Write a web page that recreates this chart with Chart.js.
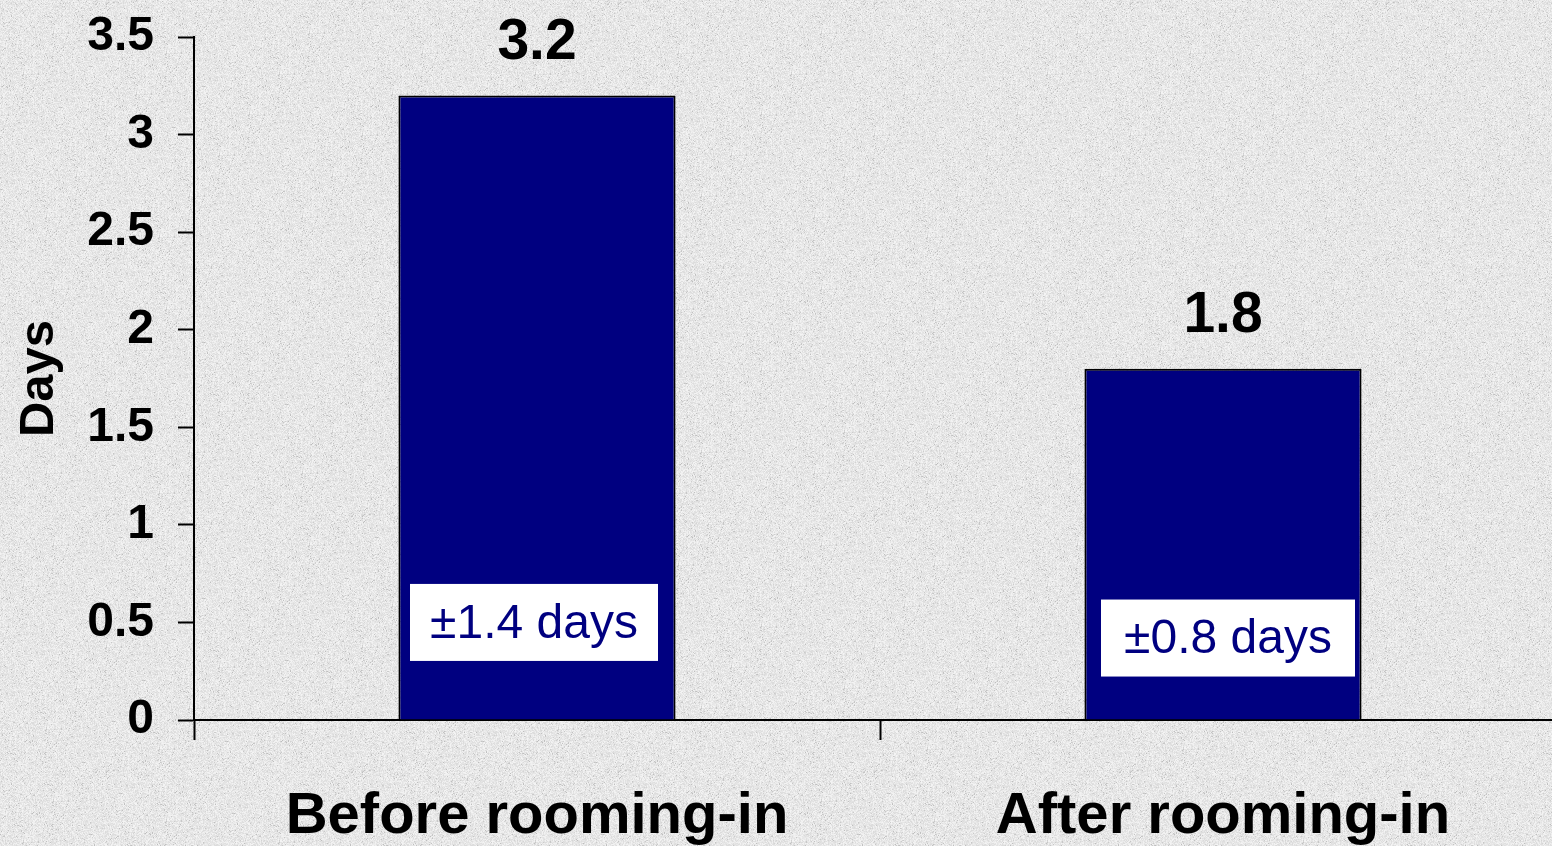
<!DOCTYPE html>
<html>
<head>
<meta charset="utf-8">
<script src="https://cdn.jsdelivr.net/npm/chart.js@4.4.0/dist/chart.umd.min.js"></script>
<style>
  html, body { margin: 0; padding: 0; overflow: hidden; background: #e6e6e6; }
  #wrap { width: 1566px; height: 846px; }
</style>
</head>
<body>
<div id="wrap"><canvas id="myChart" width="1566" height="846"></canvas></div>
<script>
// data
const categories = ['Before rooming-in', 'After rooming-in'];
const meanDays = [3.2, 1.8];
const sdLabels = ['\u00b11.4 days', '\u00b10.8 days'];
const yTicks = [0, 0.5, 1, 1.5, 2, 2.5, 3, 3.5];

// granite-ish backdrop, simple LCG so it looks the same each run
function makeTexture() {
    var c = document.createElement('canvas');
    c.width = 256; c.height = 256;
    var g = c.getContext('2d');
    var img = g.createImageData(256, 256);
    var seed = 12345;
    function rnd() { seed = (seed * 1103515245 + 12345) & 0x7fffffff; return seed / 0x7fffffff; }
    for (var i = 0; i < img.data.length; i += 4) {
        var v = 232 + Math.floor((rnd() - 0.5) * 26);
        if (rnd() < 0.05) v -= 30;
        img.data[i] = v; img.data[i + 1] = v; img.data[i + 2] = v; img.data[i + 3] = 255;
    }
    g.putImageData(img, 0, 0);
    var c2 = document.createElement('canvas');
    c2.width = 256; c2.height = 256;
    var g2 = c2.getContext('2d');
    g2.filter = 'blur(0.7px)';
    g2.drawImage(c, 0, 0);
    return c2;
}

const bgPlugin = {
    id: 'bg',
    beforeDraw(chart) {
        var ctx = chart.ctx;
        ctx.save();
        ctx.fillStyle = ctx.createPattern(makeTexture(), 'repeat');
        ctx.fillRect(0, 0, chart.width, chart.height);
        ctx.restore();
    }
};

// value above each bar + white "± sd" box inside it
const labelPlugin = {
    id: 'barLabels',
    afterDatasetsDraw(chart) {
        var ctx = chart.ctx;
        var meta = chart.getDatasetMeta(0);
        var yScale = chart.scales.y;
        var boxCenter = [0.5, 0.42];
        var boxW = [248, 254];
        meta.data.forEach(function (bar, i) {
            ctx.save();
            ctx.fillStyle = '#000';
            ctx.font = 'bold 57px "Liberation Sans", Arial, sans-serif';
            ctx.textAlign = 'center';
            ctx.textBaseline = 'alphabetic';
            ctx.fillText(String(meanDays[i]), bar.x, bar.y - 37);

            var cy = yScale.getPixelForValue(boxCenter[i]);
            var cx = bar.x + (i === 0 ? -3 : 5);
            ctx.fillStyle = '#ffffff';
            ctx.fillRect(cx - boxW[i] / 2, cy - 38.5, boxW[i], 77);
            ctx.fillStyle = '#000080';
            ctx.font = '48px "Liberation Sans", Arial, sans-serif';
            ctx.textBaseline = 'middle';
            ctx.fillText(sdLabels[i], cx, cy + 2);
            ctx.restore();
        });
    }
};

const ctx = document.getElementById('myChart');
const myChart = new Chart(ctx, {
    type: 'bar',
    data: {
        labels: categories,
        datasets: [{
            label: 'Days',
            data: meanDays,
            backgroundColor: '#000080',
            borderColor: '#000000',
            borderWidth: 2,
            borderSkipped: 'bottom',
            barPercentage: 0.404,
            categoryPercentage: 1
        }]
    },
    options: {
        responsive: false,
        animation: false,
        devicePixelRatio: 1,
        layout: { padding: { top: 37, right: 0, left: 0, bottom: 0 } },
        plugins: {
            legend: { display: false },
            tooltip: { enabled: false }
        },
        scales: {
            x: {
                afterFit: function (s) { s.height = 126; s.paddingLeft = 0; s.paddingRight = 0; },
                grid: {
                    drawOnChartArea: false,
                    drawTicks: true,
                    tickLength: 20,
                    tickWidth: 2,
                    tickColor: '#000'
                },
                border: { display: true, color: '#000', width: 2 },
                ticks: {
                    color: '#000',
                    padding: 42,
                    font: { family: '"Liberation Sans", Arial, sans-serif', size: 58, weight: 'bold' }
                }
            },
            y: {
                min: 0,
                max: 3.5,
                afterFit: function (s) { s.width = 194; s.paddingTop = 0; s.paddingBottom = 0; },
                afterBuildTicks: function (s) { s.ticks = yTicks.map(function (v) { return { value: v }; }); },
                grid: {
                    drawOnChartArea: false,
                    drawTicks: true,
                    tickLength: 16,
                    tickWidth: 2,
                    tickColor: '#000'
                },
                border: { display: true, color: '#000', width: 2 },
                ticks: {
                    color: '#000',
                    padding: 24,
                    callback: function (v) { return String(v); },
                    font: { family: '"Liberation Sans", Arial, sans-serif', size: 48, weight: 'bold' }
                },
                title: {
                    display: true,
                    text: 'Days',
                    color: '#000',
                    padding: { top: 10, bottom: 0 },
                    font: { family: '"Liberation Sans", Arial, sans-serif', size: 49, weight: 'bold' }
                }
            }
        }
    },
    plugins: [bgPlugin, labelPlugin]
});
</script>
</body>
</html>
